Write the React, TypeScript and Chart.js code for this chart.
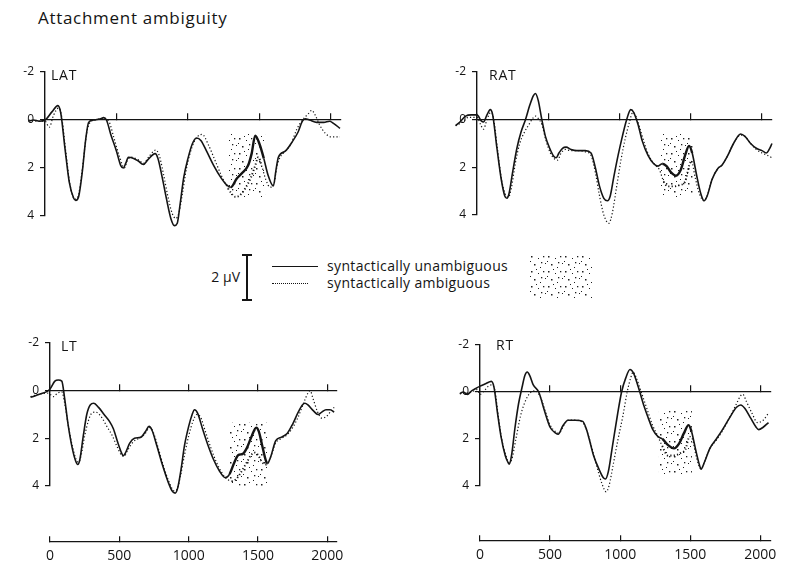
import React, { useEffect, useRef } from "react";
import { Chart, registerables } from "chart.js";

Chart.register(...registerables);

const FONT = '"Open Sans", "DejaVu Sans", sans-serif';

// ---- axis definitions ----
const timeTicks = [0, 500, 1000, 1500, 2000];
const voltTicks = [-2, 0, 2, 4];
const timeMin = 0;
const timeMax = 2070;
const voltMin = -2;
const voltMax = 4;
const timeAxisLevel = 6.33; // µV level (below the plot) where the ms axis sits

const legendSolid = "syntactically unambiguous";
const legendDotted = "syntactically ambiguous";
const titleText = "Attachment ambiguity";
const calibText = "2 \u00b5V";

// ---- LAT ----
const latSolidT = [-115, -80, -40, 0, 50, 90, 110, 140, 170, 200, 215, 235, 260, 285, 305, 340, 390, 410, 430, 460, 500, 530, 548, 565, 583, 620, 650, 688, 720, 770, 790, 820, 850, 880, 905, 925, 945, 970, 1000, 1030, 1060, 1090, 1130, 1180, 1230, 1270, 1300, 1340, 1380, 1420, 1445, 1470, 1500, 1530, 1560, 1597, 1615, 1632, 1680, 1730, 1770, 1800, 1820, 1850, 1900, 1950, 1990, 2020, 2063];
const latSolidV = [0.05, 0.0, 0.05, 0.0, -0.35, -0.6, -0.3, 1.2, 2.6, 3.25, 3.35, 3.2, 2.2, 0.8, 0.1, 0.0, -0.05, -0.1, 0.0, 0.6, 1.3, 1.9, 2.0, 1.8, 1.55, 1.6, 1.7, 1.85, 1.65, 1.4, 1.6, 2.4, 3.3, 4.1, 4.4, 4.3, 3.5, 2.4, 1.6, 1.0, 0.75, 0.85, 1.3, 1.9, 2.4, 2.7, 2.8, 2.45, 2.2, 1.9, 1.4, 0.65, 1.0, 1.6, 2.3, 2.75, 2.1, 1.55, 1.3, 0.9, 0.5, 0.05, -0.05, 0.0, 0.1, 0.1, 0.05, 0.15, 0.35];
const latDottedT = [-115, -60, 0, 30, 60, 95, 115, 145, 175, 210, 235, 262, 290, 315, 350, 410, 450, 480, 520, 555, 575, 600, 650, 690, 730, 775, 800, 830, 860, 890, 915, 935, 960, 990, 1030, 1065, 1100, 1140, 1190, 1240, 1280, 1310, 1330, 1360, 1400, 1440, 1470, 1492, 1515, 1545, 1575, 1600, 1620, 1640, 1680, 1720, 1760, 1800, 1840, 1865, 1890, 1920, 1960, 2000, 2063];
const latDottedV = [0.0, 0.05, 0.05, 0.3, -0.2, -0.5, -0.2, 1.3, 2.7, 3.3, 3.1, 2.0, 0.6, 0.1, 0.0, -0.05, 0.1, 0.7, 1.5, 2.0, 1.7, 1.55, 1.65, 1.8, 1.5, 1.25, 1.5, 2.3, 3.2, 3.9, 4.1, 3.9, 3.1, 2.0, 1.1, 0.7, 0.6, 1.0, 1.7, 2.4, 2.85, 3.1, 3.2, 3.15, 2.85, 2.4, 1.9, 1.55, 1.9, 2.5, 2.8, 2.7, 2.0, 1.6, 1.3, 1.0, 0.4, 0.0, -0.25, -0.4, -0.2, 0.2, 0.55, 0.7, 0.7];
const latWindow = [1280, 1540, 0.55, 3.25];

// ---- RAT ----
const ratSolidT = [-150, -120, -80, -40, 0, 30, 45, 70, 93, 110, 140, 170, 195, 210, 225, 250, 280, 310, 340, 370, 395, 410, 430, 455, 480, 510, 540, 555, 575, 600, 625, 660, 700, 760, 800, 830, 860, 890, 915, 935, 960, 990, 1020, 1050, 1079, 1100, 1130, 1160, 1200, 1240, 1270, 1300, 1330, 1360, 1395, 1430, 1460, 1488, 1510, 1540, 1570, 1593, 1615, 1650, 1690, 1720, 1760, 1800, 1850, 1880, 1920, 1960, 2000, 2030, 2050, 2070];
const ratSolidV = [0.25, 0.1, -0.15, -0.2, -0.2, 0.05, 0.1, -0.2, -0.42, -0.2, 1.2, 2.5, 3.2, 3.3, 3.1, 2.2, 1.2, 0.5, 0.0, -0.6, -1.0, -1.1, -0.8, 0.0, 0.7, 1.2, 1.55, 1.6, 1.4, 1.2, 1.15, 1.25, 1.3, 1.3, 1.4, 2.0, 2.8, 3.3, 3.4, 3.2, 2.4, 1.5, 0.7, 0.0, -0.42, -0.3, 0.2, 0.9, 1.5, 1.85, 1.95, 1.85, 1.95, 2.2, 2.35, 2.1, 1.5, 1.1, 1.4, 2.3, 3.1, 3.4, 3.2, 2.5, 2.05, 1.9, 1.5, 1.0, 0.6, 0.7, 1.0, 1.2, 1.3, 1.4, 1.25, 1.0];
const ratDottedT = [-150, -100, -60, 0, 25, 45, 70, 95, 115, 145, 175, 205, 220, 240, 270, 300, 335, 365, 390, 410, 430, 455, 485, 515, 545, 565, 590, 620, 660, 700, 760, 800, 830, 860, 890, 925, 950, 980, 1010, 1040, 1070, 1093, 1115, 1145, 1175, 1210, 1250, 1280, 1310, 1340, 1380, 1420, 1460, 1490, 1505, 1530, 1560, 1593, 1615, 1650, 1690, 1720, 1760, 1800, 1850, 1880, 1920, 1960, 2000, 2040, 2070];
const ratDottedV = [0.25, 0.1, -0.1, -0.1, 0.2, 0.4, 0.0, -0.3, -0.1, 1.3, 2.6, 3.2, 3.25, 2.9, 1.8, 1.0, 0.5, 0.2, -0.05, -0.15, -0.05, 0.2, 0.9, 1.4, 1.65, 1.7, 1.4, 1.25, 1.3, 1.3, 1.35, 1.5, 2.2, 3.2, 4.0, 4.35, 3.9, 2.8, 1.7, 0.8, 0.1, -0.3, -0.15, 0.4, 1.0, 1.55, 1.9, 2.1, 2.6, 2.8, 2.8, 2.75, 2.6, 1.9, 1.75, 2.4, 3.1, 3.4, 3.2, 2.5, 2.05, 1.9, 1.5, 1.0, 0.65, 0.7, 1.0, 1.25, 1.4, 1.5, 1.6];
const ratWindow = [1285, 1515, 0.6, 3.25];

// ---- LT ----
const ltSolidT = [-140, -100, -60, -20, 0, 35, 60, 85, 105, 130, 160, 185, 200, 215, 240, 265, 290, 316, 350, 390, 430, 457, 490, 515, 527, 545, 575, 609, 656, 690, 714, 735, 770, 810, 850, 880, 902, 920, 945, 970, 1000, 1025, 1042, 1065, 1100, 1140, 1180, 1220, 1265, 1295, 1330, 1358, 1390, 1420, 1455, 1487, 1505, 1530, 1555, 1569, 1590, 1628, 1670, 1710, 1750, 1790, 1820, 1838, 1860, 1900, 1932, 1960, 1990, 2020, 2049];
const ltSolidV = [0.28, 0.2, 0.12, 0.03, -0.07, -0.4, -0.45, -0.4, 0.3, 1.4, 2.4, 2.95, 3.1, 2.9, 1.9, 1.0, 0.6, 0.53, 0.7, 1.0, 1.3, 1.6, 2.2, 2.6, 2.73, 2.6, 2.2, 2.0, 1.95, 1.7, 1.5, 1.65, 2.3, 3.1, 3.8, 4.2, 4.3, 4.1, 3.3, 2.3, 1.5, 1.0, 0.8, 0.95, 1.6, 2.3, 2.9, 3.35, 3.65, 3.5, 3.0, 2.7, 2.65, 2.4, 1.9, 1.55, 1.7, 2.3, 2.9, 3.05, 2.8, 2.1, 1.95, 1.8, 1.4, 0.9, 0.6, 0.53, 0.6, 0.85, 1.0, 0.9, 0.8, 0.8, 0.9];
const ltDottedT = [-140, -80, -20, 0, 25, 55, 85, 105, 130, 160, 190, 205, 225, 250, 275, 300, 330, 370, 410, 450, 480, 515, 535, 560, 600, 640, 680, 720, 745, 780, 820, 860, 895, 915, 940, 970, 1000, 1030, 1058, 1085, 1120, 1160, 1200, 1240, 1275, 1310, 1345, 1380, 1420, 1450, 1478, 1500, 1525, 1550, 1569, 1590, 1628, 1670, 1710, 1750, 1790, 1830, 1860, 1876, 1895, 1930, 1960, 1990, 2020, 2049];
const ltDottedV = [0.25, 0.15, 0.1, 0.15, 0.25, 0.1, 0.05, 0.5, 1.4, 2.3, 2.9, 3.0, 2.7, 1.9, 1.3, 0.95, 0.9, 1.1, 1.5, 1.9, 2.3, 2.7, 2.75, 2.5, 2.15, 2.0, 1.85, 1.55, 1.75, 2.4, 3.2, 3.85, 4.2, 4.15, 3.6, 2.7, 1.9, 1.3, 1.0, 1.1, 1.7, 2.4, 3.0, 3.45, 3.7, 3.8, 3.7, 3.4, 3.0, 2.7, 2.6, 2.7, 2.95, 3.1, 3.05, 2.8, 2.2, 2.0, 1.85, 1.55, 1.1, 0.5, 0.1, 0.0, 0.3, 0.9, 1.15, 1.1, 0.9, 0.7];
const ltWindow = [1290, 1570, 1.35, 4.0];

// ---- RT ----
const rtSolidT = [-144, -120, -90, -60, -30, 0, 40, 81, 100, 125, 150, 180, 200, 209, 225, 250, 275, 300, 320, 337, 355, 380, 419, 460, 500, 540, 558, 590, 628, 680, 733, 760, 779, 810, 850, 880, 895, 915, 945, 980, 1010, 1040, 1070, 1095, 1130, 1170, 1200, 1233, 1270, 1302, 1340, 1384, 1420, 1455, 1488, 1510, 1540, 1565, 1577, 1600, 1640, 1686, 1730, 1780, 1830, 1860, 1890, 1930, 1970, 1988, 2020, 2058];
const rtSolidV = [0.07, 0.0, 0.1, -0.05, -0.15, -0.25, -0.35, -0.45, -0.2, 0.9, 1.9, 2.7, 3.0, 3.07, 2.7, 1.5, 0.5, -0.2, -0.7, -0.85, -0.7, -0.3, 0.0, 0.8, 1.5, 1.75, 1.8, 1.45, 1.2, 1.2, 1.25, 1.6, 2.0, 2.7, 3.3, 3.65, 3.7, 3.4, 2.3, 1.0, 0.0, -0.6, -0.96, -0.8, -0.2, 0.6, 1.1, 1.6, 1.9, 2.0, 2.25, 2.4, 2.2, 1.75, 1.41, 1.7, 2.5, 3.1, 3.28, 3.0, 2.4, 2.0, 1.6, 1.1, 0.65, 0.55, 0.7, 1.1, 1.5, 1.6, 1.5, 1.3];
const rtDottedT = [-144, -100, -60, -20, 0, 30, 60, 85, 105, 130, 155, 185, 205, 225, 256, 290, 330, 365, 395, 430, 465, 500, 540, 565, 595, 630, 680, 733, 765, 790, 830, 870, 900, 920, 950, 985, 1020, 1050, 1075, 1093, 1115, 1150, 1190, 1230, 1270, 1300, 1340, 1390, 1430, 1465, 1495, 1515, 1545, 1577, 1600, 1640, 1686, 1730, 1780, 1830, 1860, 1875, 1900, 1940, 1980, 2020, 2058];
const rtDottedV = [0.07, 0.05, 0.0, -0.1, 0.1, -0.05, -0.25, -0.3, -0.1, 1.0, 2.0, 2.7, 3.0, 2.9, 2.0, 1.0, 0.3, 0.0, -0.05, 0.2, 0.8, 1.4, 1.7, 1.75, 1.45, 1.2, 1.2, 1.3, 1.7, 2.2, 3.1, 3.9, 4.25, 4.0, 3.1, 2.0, 1.0, 0.0, -0.6, -0.85, -0.6, 0.0, 0.7, 1.4, 1.9, 2.3, 2.7, 2.7, 2.6, 2.45, 1.9, 2.0, 2.8, 3.28, 3.0, 2.4, 2.05, 1.65, 1.1, 0.5, 0.15, 0.1, 0.4, 0.9, 1.3, 1.2, 0.9];
const rtWindow = [1275, 1512, 0.8, 3.5];

type PanelSpec = {
  name: string;
  left: number; // pixel of 0 ms
  top: number; // pixel of -2 µV
  bottom: number; // pixel of 4 µV
  pxPerMs: number;
  solidT: number[];
  solidV: number[];
  dottedT: number[];
  dottedV: number[];
  win: number[];
  timeAxis: boolean;
  labelX: number;
  labelY: number;
};

const panels: PanelSpec[] = [
  { name: "LAT", left: 45, top: 72, bottom: 216, pxPerMs: 0.143, solidT: latSolidT, solidV: latSolidV, dottedT: latDottedT, dottedV: latDottedV, win: latWindow, timeAxis: false, labelX: 51, labelY: 66 },
  { name: "RAT", left: 477, top: 72, bottom: 215, pxPerMs: 0.1425, solidT: ratSolidT, solidV: ratSolidV, dottedT: ratDottedT, dottedV: ratDottedV, win: ratWindow, timeAxis: false, labelX: 489, labelY: 66 },
  { name: "LT", left: 50, top: 343, bottom: 486, pxPerMs: 0.142, solidT: ltSolidT, solidV: ltSolidV, dottedT: ltDottedT, dottedV: ltDottedV, win: ltWindow, timeAxis: true, labelX: 61, labelY: 337 },
  { name: "RT", left: 480, top: 345, bottom: 486, pxPerMs: 0.1435, solidT: rtSolidT, solidV: rtSolidV, dottedT: rtDottedT, dottedV: rtDottedV, win: rtWindow, timeAxis: true, labelX: 496, labelY: 336 },
];

const AXIS_W = 45;
const PAD_R = 12;
const PAD_T = 25;

const INK = "#141414";

function makeStipple(): CanvasPattern | string {
  const c = document.createElement("canvas");
  c.width = 17;
  c.height = 15;
  const g = c.getContext("2d");
  if (!g) return "rgba(0,0,0,0.12)";
  g.fillStyle = "#1e1e1e";
  const offsets = [
    [1, 1, 1.5], [8, 3, 1], [13, 1, 1.3], [15, 8, 1], [4, 9, 1.5], [10, 12, 1], [0, 6, 1], [11, 7, 1.3], [6, 14, 1],
  ];
  offsets.forEach(([x, y, s]) => g.fillRect(x, y, s, s));
  return g.createPattern(c, "repeat") || "rgba(0,0,0,0.12)";
}

const toXY = (t: number[], v: number[]) => t.map((x, i) => ({ x, y: v[i] }));

function Panel({ spec }: { spec: PanelSpec }) {
  const ref = useRef<HTMLCanvasElement | null>(null);
  const areaW = Math.round((timeMax - timeMin) * spec.pxPerMs);
  const width = AXIS_W + areaW + PAD_R;
  const bottomPad = spec.timeAxis ? 565 - spec.bottom : 20;
  const height = PAD_T + (spec.bottom - spec.top) + bottomPad;

  useEffect(() => {
    if (!ref.current) return;
    const [w0, w1, wv0, wv1] = spec.win;
    const inWin = (ctx: any) => ctx.p0.parsed.x >= w0 - 1 && ctx.p1.parsed.x <= w1 + 1;
    const pattern = makeStipple();

    const xCommon = {
      type: "linear" as const,
      bounds: "data" as const,
      afterDataLimits: (s: any) => {
        s.min = timeMin;
        s.max = timeMax;
      },
      afterBuildTicks: (s: any) => {
        s.ticks = timeTicks.map((value) => ({ value }));
      },
      afterFit: (s: any) => {
        s.height = 0;
      },
      border: { display: true, color: INK, width: 1.3 },
    };

    const scales: any = {
      x: {
        ...xCommon,
        position: { y: 0 },
        grid: { drawOnChartArea: false, drawTicks: true, tickLength: -7, color: INK, lineWidth: 1.2 },
        ticks: { display: false },
      },
      y: {
        type: "linear",
        position: "left",
        reverse: true,
        min: voltMin,
        max: voltMax,
        afterBuildTicks: (s: any) => {
          s.ticks = voltTicks.map((value) => ({ value }));
        },
        afterFit: (s: any) => {
          s.width = AXIS_W;
        },
        grid: { drawOnChartArea: false, drawTicks: true, tickLength: 5, color: INK, lineWidth: 1.2 },
        border: { display: true, color: INK, width: 1.4 },
        ticks: {
          color: INK,
          padding: 6,
          font: { family: FONT, size: 12 },
          callback: (v: any) => String(v),
        },
      },
    };
    if (spec.timeAxis) {
      scales.t = {
        ...xCommon,
        axis: "x",
        position: { y: timeAxisLevel },
        grid: { drawOnChartArea: false, drawTicks: true, tickLength: -6, color: INK, lineWidth: 1.2 },
        ticks: {
          display: true,
          color: INK,
          padding: 12,
          maxRotation: 0,
          font: { family: FONT, size: 14 },
          callback: (v: any) => String(v),
        },
      };
    }

    const chart = new Chart(ref.current, {
      type: "line",
      data: {
        datasets: [
          {
            label: legendSolid,
            data: toXY(spec.solidT, spec.solidV),
            borderColor: INK,
            borderWidth: 1.6,
            pointRadius: 0,
            cubicInterpolationMode: "monotone",
            clip: false as any,
            fill: false,
            segment: { borderWidth: (ctx: any) => (inWin(ctx) ? 2.4 : 1.6) },
            order: 0,
          },
          {
            label: legendDotted,
            data: toXY(spec.dottedT, spec.dottedV),
            borderColor: INK,
            borderWidth: 1.2,
            borderDash: [1.2, 2.2],
            pointRadius: 0,
            cubicInterpolationMode: "monotone",
            clip: false as any,
            fill: false,
            segment: { borderWidth: (ctx: any) => (inWin(ctx) ? 1.9 : 1.2) },
            order: 1,
          },
          {
            label: "window-low",
            data: [{ x: w0, y: wv0 }, { x: w1, y: wv0 }],
            borderColor: "rgba(0,0,0,0)",
            borderWidth: 1,
            pointRadius: 0,
            backgroundColor: pattern as any,
            fill: "+1",
            clip: false as any,
            order: 5,
          },
          {
            label: "window-high",
            data: [{ x: w0, y: wv1 }, { x: w1, y: wv1 }],
            borderColor: "rgba(0,0,0,0)",
            borderWidth: 1,
            pointRadius: 0,
            fill: false,
            clip: false as any,
            order: 5,
          },
        ],
      },
      options: {
        responsive: false,
        animation: false,
        devicePixelRatio: 1,
        layout: { padding: { left: 0, right: PAD_R, top: PAD_T, bottom: bottomPad } },
        plugins: { legend: { display: false }, tooltip: { enabled: false }, title: { display: false } },
        events: [],
        scales,
      } as any,
    });
    return () => chart.destroy();
  }, [spec]);

  return (
    <>
      <canvas
        ref={ref}
        width={width}
        height={height}
        style={{ position: "absolute", left: spec.left - AXIS_W, top: spec.top - PAD_T, width, height }}
      />
      <div
        style={{
          position: "absolute",
          left: spec.labelX,
          top: spec.labelY,
          font: `14px ${FONT}`,
          letterSpacing: "0.8px",
          color: INK,
          lineHeight: "17px",
        }}
      >
        {spec.name}
      </div>
    </>
  );
}

function StippleBox() {
  const ref = useRef<HTMLCanvasElement | null>(null);
  useEffect(() => {
    const c = ref.current;
    if (!c) return;
    const g = c.getContext("2d");
    if (!g) return;
    g.fillStyle = makeStipple() as any;
    g.fillRect(0, 0, c.width, c.height);
  }, []);
  return <canvas ref={ref} width={62} height={44} style={{ position: "absolute", left: 530, top: 255 }} />;
}

export default function App() {
  return (
    <div
      style={{
        position: "absolute",
        left: 0,
        top: 0,
        width: 789,
        height: 565,
        overflow: "hidden",
        background: "#fff",
        fontFamily: FONT,
        color: INK,
      }}
    >
      <div style={{ position: "absolute", left: 38, top: 6, fontSize: 17, letterSpacing: "0.7px" }}>{titleText}</div>
      {panels.map((p) => (
        <Panel key={p.name} spec={p} />
      ))}
      {/* calibration bar & legend */}
      <div style={{ position: "absolute", left: 192, top: 268, width: 48, textAlign: "right", fontSize: 14, lineHeight: "18px" }}>
        {calibText}
      </div>
      <div style={{ position: "absolute", left: 246, top: 255, width: 1.5, height: 45, background: INK }} />
      <div style={{ position: "absolute", left: 242, top: 254, width: 10, height: 1.5, background: INK }} />
      <div style={{ position: "absolute", left: 242, top: 299, width: 10, height: 1.5, background: INK }} />
      <div style={{ position: "absolute", left: 272, top: 266, width: 46, borderTop: `1.5px solid ${INK}` }} />
      <div style={{ position: "absolute", left: 272, top: 283, width: 36, borderTop: `1.3px dotted ${INK}` }} />
      <div style={{ position: "absolute", left: 327, top: 257, fontSize: 14, lineHeight: "17px", letterSpacing: "0.35px" }}>
        <div>{legendSolid}</div>
        <div>{legendDotted}</div>
      </div>
      <StippleBox />
    </div>
  );
}
